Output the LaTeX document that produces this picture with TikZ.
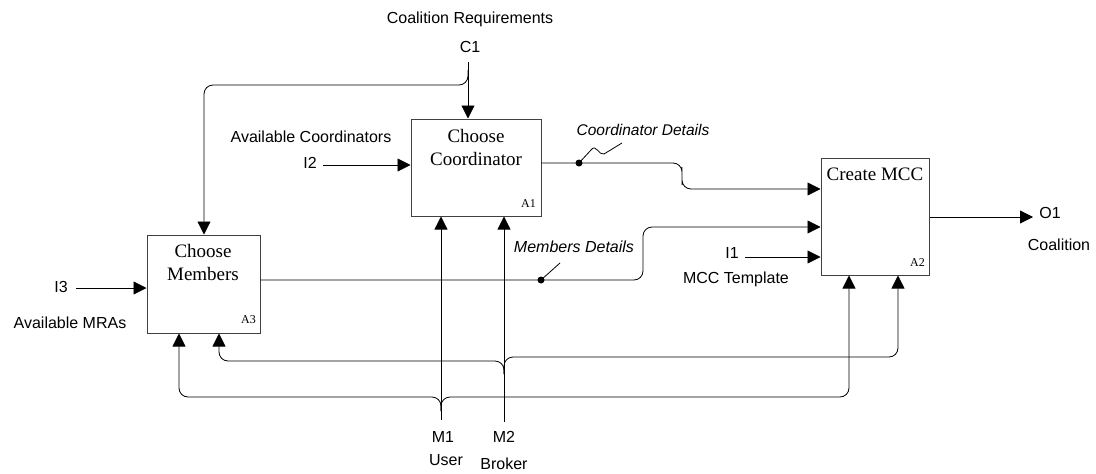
\documentclass[tikz,border=0pt]{standalone}
\usepackage{fontspec}
\setmainfont{Liberation Serif}
\setsansfont{Liberation Sans}
\usetikzlibrary{arrows.meta}
\begin{document}
\begin{tikzpicture}[x=1pt,y=-1pt,
  box/.style={draw=black!75, line width=1pt, inner sep=0pt},
  line/.style={line width=0.8pt},
  flow/.style={line, -{Triangle[length=13pt,width=13pt]}},
  roundturn/.style={rounded corners=9pt},
  lbl/.style={font=\sffamily\fontsize{16}{19}\selectfont, inner sep=0pt, anchor=base},
  ilbl/.style={font=\sffamily\itshape\fontsize{16}{19}\selectfont, inner sep=0pt, anchor=base},
  ttl/.style={font=\fontsize{19}{23}\selectfont, inner sep=0pt, anchor=base},
  num/.style={font=\fontsize{12}{14}\selectfont, inner sep=0pt, anchor=base east},
  dot/.style={circle, fill=black, inner sep=0pt, minimum size=7pt},
]
\useasboundingbox (0,0) rectangle (1096,474);

% activity boxes
\node[box, minimum width=130pt, minimum height=97pt] (a1) at (476,167.5) {};
\node[box, minimum width=113pt, minimum height=98pt] (a3) at (203.5,284) {};
\node[box, minimum width=108pt, minimum height=117pt] (a2) at (875,216.5) {};

% box titles and numbers
\node[ttl] (a1t1) at (476,142) {Choose};
\node[ttl] (a1t2) at (476,165) {Coordinator};
\node[num] (a1n) at (536,207) {A1};
\node[ttl] (a3t1) at (203,257) {Choose};
\node[ttl] (a3t2) at (203,280) {Members};
\node[num] (a3n) at (256,323) {A3};
\node[ttl] (a2t) at (875,180) {Create MCC};
\node[num] (a2n) at (925,266) {A2};

% control C1
\node[lbl] (crq) at (470,23) {Coalition Requirements};
\node[lbl] (c1t) at (470,52) {C1};
\coordinate (c1) at (468,62);
\coordinate (c1f) at (468,70);
\coordinate (c1b) at (204,85);
\draw[flow] (c1) -- (c1 |- a1.north);
\draw[flow, roundturn] (c1f) |- (c1b) -- (c1b |- a3.north);

% inputs
\node[lbl] (i2l) at (311,142) {Available Coordinators};
\node[lbl] (i2t) at (310,168) {I2};
\coordinate (i2e) at (323,165);
\draw[flow] (i2e) -- (i2e -| a1.west);

\node[lbl] (i3t) at (61,292) {I3};
\node[lbl] (i3l) at (70,328) {Available MRAs};
\coordinate (i3e) at (76,288);
\draw[flow] (i3e) -- (i3e -| a3.west);

\node[lbl] (i1t) at (732,258) {I1};
\node[lbl] (i1l) at (736,283) {MCC Template};
\coordinate (i1e) at (745,257);
\draw[flow] (i1e) -- (i1e -| a2.west);

% output O1
\node[lbl] (o1t) at (1050,218) {O1};
\node[lbl] (o1l) at (1059,250) {Coalition};
\coordinate (o1e) at (1033,217);
\draw[flow] (a2.east |- o1e) -- (o1e);

% coordinator details: A1 -> A2
\coordinate (cdd) at (579,163);
\coordinate (cdb) at (682,176);
\coordinate (cdi) at (800,189);
\draw[flow, roundturn] (a1.east |- cdd) -| (cdb) |- (cdi -| a2.west);
\node[dot] (cddot) at (cdd) {};
\coordinate (cdtail) at (622,143);
\draw[line] (cddot.center) -- (591,150) .. controls (596,143) and (599,156) .. (604,154) -- (cdtail);
\node[ilbl, font=\sffamily\itshape\fontsize{15.5}{18}\selectfont] (cdl) at (643,135) {Coordinator Details};

% members details: A3 -> A2
\coordinate (mdd) at (541,280);
\coordinate (mdb) at (643,253);
\coordinate (mdi) at (800,227);
\draw[flow, roundturn] (a3.east |- mdd) -| (mdb) |- (mdi -| a2.west);
\node[dot] (mddot) at (mdd) {};
\coordinate (mdtail) at (560,263);
\draw[line] (mddot.center) -- (mdtail);
\node[ilbl] (mdl) at (574,252) {Members Details};

% mechanism M1 (User)
\node[lbl] (m1t) at (443,442) {M1};
\node[lbl] (m1u) at (446,465) {User};
\coordinate (m1e) at (441,420);
\coordinate (m1f) at (441,411);
\coordinate (m1h) at (441,397);
\coordinate (m1l) at (179,397);
\coordinate (m1r) at (849,397);
\draw[flow] (m1e) -- (m1e |- a1.south);
\draw[flow, roundturn] (m1f) -- (m1h) -- (m1l) -- (m1l |- a3.south);
\draw[flow, roundturn] (m1f) -- (m1h) -- (m1r) -- (m1r |- a2.south);

% mechanism M2 (Broker)
\node[lbl] (m2t) at (504,442) {M2};
\node[lbl] (m2u) at (504,469) {Broker};
\coordinate (m2e) at (504,422);
\coordinate (m2f) at (504,374);
\coordinate (m2hl) at (504,361);
\coordinate (m2hr) at (504,357);
\coordinate (m2l) at (219,361);
\coordinate (m2r) at (898,357);
\draw[flow] (m2e) -- (m2e |- a1.south);
\draw[flow, roundturn] (m2f) -- (m2hl) -- (m2l) -- (m2l |- a3.south);
\draw[flow, roundturn] (m2f) -- (m2hr) -- (m2r) -- (m2r |- a2.south);
\end{tikzpicture}
\end{document}
